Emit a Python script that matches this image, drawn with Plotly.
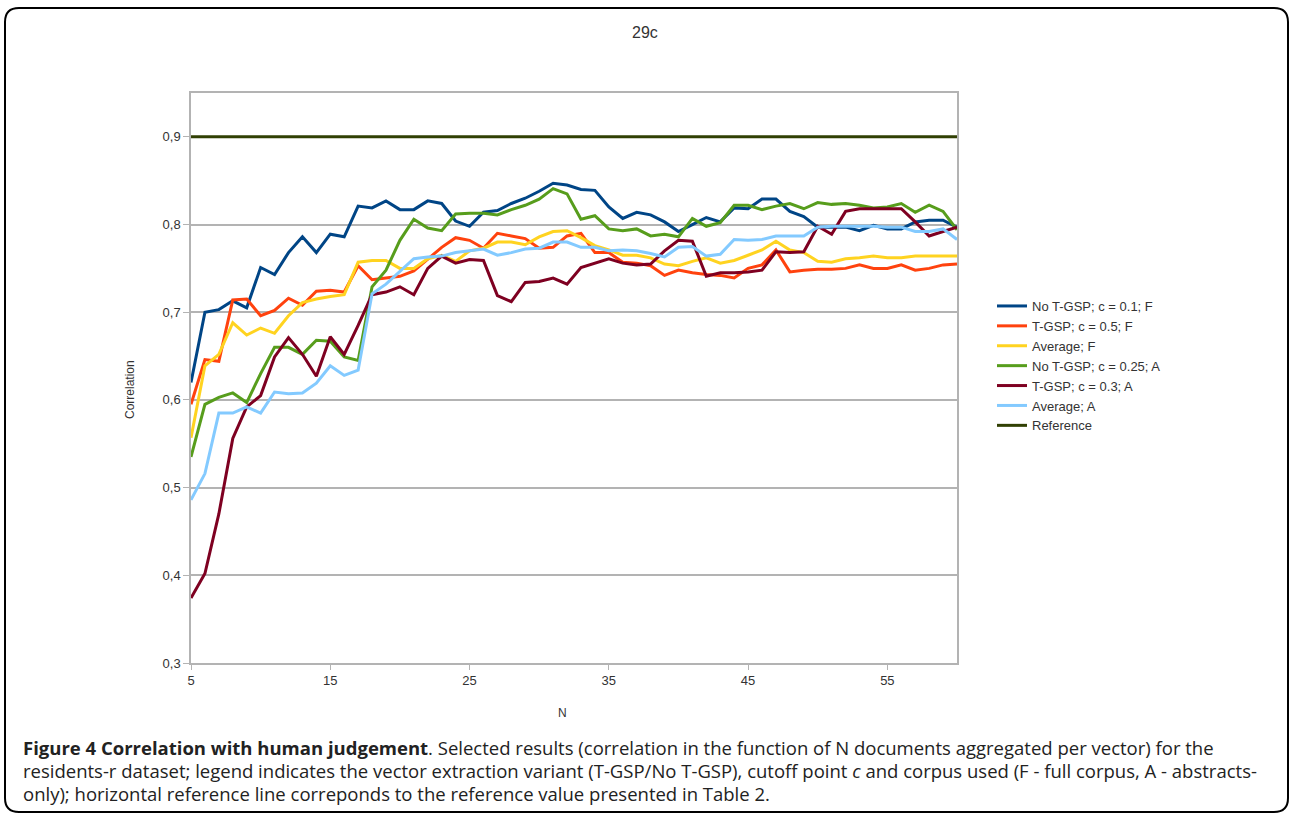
import plotly.graph_objects as go

# Number of documents aggregated per vector
n_docs = list(range(5, 61))

no_tgsp_01_f = [0.620, 0.700, 0.703, 0.713, 0.705, 0.751, 0.743, 0.768, 0.786, 0.768, 0.789, 0.786, 0.821, 0.819, 0.827, 0.817,
                0.817, 0.827, 0.824, 0.804, 0.798, 0.814, 0.816, 0.824, 0.830, 0.838, 0.847, 0.845, 0.840, 0.839, 0.820, 0.807, 0.814, 0.811, 0.803, 0.792,
                0.800, 0.808, 0.803, 0.819, 0.818, 0.829, 0.829, 0.815, 0.809, 0.797, 0.797, 0.797, 0.793, 0.799, 0.795, 0.795, 0.803, 0.805, 0.805, 0.797]
tgsp_05_f = [0.595, 0.646, 0.644, 0.714, 0.715, 0.696, 0.702, 0.716, 0.708, 0.724, 0.725, 0.723, 0.753, 0.737, 0.739, 0.741,
             0.747, 0.761, 0.774, 0.785, 0.782, 0.773, 0.790, 0.787, 0.784, 0.773, 0.774, 0.787, 0.790, 0.768, 0.768, 0.757, 0.756, 0.753, 0.742, 0.748,
             0.745, 0.743, 0.742, 0.739, 0.750, 0.754, 0.771, 0.746, 0.748, 0.749, 0.749, 0.750, 0.754, 0.750, 0.750, 0.754, 0.748, 0.750, 0.754, 0.755]
average_f = [0.557, 0.639, 0.652, 0.688, 0.674, 0.682, 0.676, 0.696, 0.711, 0.715, 0.718, 0.720, 0.757, 0.759, 0.759, 0.750,
             0.750, 0.761, 0.765, 0.758, 0.770, 0.773, 0.780, 0.780, 0.777, 0.786, 0.792, 0.793, 0.785, 0.776, 0.771, 0.765, 0.765, 0.762, 0.755, 0.753,
             0.758, 0.762, 0.756, 0.759, 0.765, 0.771, 0.781, 0.771, 0.768, 0.758, 0.757, 0.761, 0.762, 0.764, 0.762, 0.762, 0.764, 0.764, 0.764, 0.764]
no_tgsp_025_a = [0.535, 0.595, 0.603, 0.608, 0.597, 0.630, 0.660, 0.660, 0.652, 0.668, 0.667, 0.649, 0.645, 0.729, 0.748, 0.782,
                 0.806, 0.796, 0.793, 0.812, 0.813, 0.813, 0.811, 0.817, 0.822, 0.829, 0.841, 0.835, 0.806, 0.810, 0.795, 0.793, 0.795, 0.787, 0.789, 0.786,
                 0.807, 0.798, 0.802, 0.822, 0.822, 0.817, 0.821, 0.824, 0.818, 0.825, 0.823, 0.824, 0.822, 0.819, 0.820, 0.824, 0.814, 0.822, 0.815, 0.794]
tgsp_03_a = [0.374, 0.402, 0.470, 0.556, 0.592, 0.605, 0.649, 0.671, 0.652, 0.627, 0.672, 0.652, 0.685, 0.720, 0.723, 0.729,
             0.720, 0.750, 0.764, 0.756, 0.760, 0.759, 0.719, 0.712, 0.734, 0.735, 0.739, 0.732, 0.751, 0.756, 0.761, 0.756, 0.754, 0.755, 0.770, 0.782,
             0.781, 0.741, 0.745, 0.745, 0.746, 0.748, 0.769, 0.768, 0.769, 0.798, 0.789, 0.815, 0.818, 0.818, 0.818, 0.818, 0.803, 0.787, 0.792, 0.797]
average_a = [0.486, 0.516, 0.585, 0.585, 0.592, 0.585, 0.609, 0.607, 0.608, 0.619, 0.639, 0.628, 0.634, 0.721, 0.732, 0.746,
             0.761, 0.763, 0.764, 0.768, 0.770, 0.772, 0.765, 0.768, 0.772, 0.773, 0.780, 0.780, 0.774, 0.774, 0.770, 0.771, 0.770, 0.767, 0.763, 0.774,
             0.775, 0.764, 0.766, 0.783, 0.782, 0.783, 0.787, 0.787, 0.787, 0.797, 0.798, 0.798, 0.798, 0.798, 0.797, 0.797, 0.792, 0.792, 0.795, 0.783]
reference_value = 0.9

series_names = ["No T-GSP; c = 0.1; F", "T-GSP; c = 0.5; F", "Average; F",
                "No T-GSP; c = 0.25; A", "T-GSP; c = 0.3; A", "Average; A", "Reference"]
series_colors = ["#004586", "#ff420e", "#ffd320", "#579d1c", "#7e0021", "#83caff", "#314004"]
x_tick_values = [5, 15, 25, 35, 45, 55]

caption_lines = [
    "<b>Figure 4 Correlation with human judgement</b>. Selected results (correlation in the function of N documents aggregated per vector) for the",
    "residents-r dataset; legend indicates the vector extraction variant (T-GSP/No T-GSP), cutoff point <i>c</i> and corpus used (F - full corpus, A - abstracts-",
    "only); horizontal reference line correponds to the reference value presented in Table 2.",
]

W, H = 1292, 820
L, R, T, B = 191, 957, 93, 663  # plot area in pixels


def px(x):
    return (x - L) / (R - L)


def py(y):
    return (B - y) / (B - T)


fig = go.Figure()
all_series = [no_tgsp_01_f, tgsp_05_f, average_f, no_tgsp_025_a, tgsp_03_a, average_a,
              [reference_value] * len(n_docs)]
for name, color, values in zip(series_names, series_colors, all_series):
    fig.add_trace(go.Scatter(x=n_docs, y=values, mode="lines", name=name,
                             line=dict(color=color, width=3)))

axis_font = dict(family="Liberation Sans, Arial, sans-serif", size=13, color="#333333")

fig.update_xaxes(range=[5, 60], tickvals=x_tick_values, ticks="outside", ticklen=5,
                 tickcolor="#b3b3b3", showgrid=False, zeroline=False,
                 showline=True, linecolor="#b3b3b3", linewidth=1.5, mirror=True,
                 tickfont=axis_font)
fig.update_yaxes(range=[0.3, 0.95], tick0=0.3, dtick=0.1, tickformat=".1f",
                 ticks="outside", ticklen=6, tickcolor="#b3b3b3",
                 showgrid=True, gridcolor="#b3b3b3", gridwidth=1.5, zeroline=False,
                 showline=True, linecolor="#b3b3b3", linewidth=1.5, mirror=True,
                 tickfont=axis_font)

# Rounded frame around the whole figure
x0, y0, x1, y1, r = 5, 8, 1288, 812, 14
frame = (f"M {px(x0 + r)},{py(y0)} L {px(x1 - r)},{py(y0)} "
         f"Q {px(x1)},{py(y0)} {px(x1)},{py(y0 + r)} L {px(x1)},{py(y1 - r)} "
         f"Q {px(x1)},{py(y1)} {px(x1 - r)},{py(y1)} L {px(x0 + r)},{py(y1)} "
         f"Q {px(x0)},{py(y1)} {px(x0)},{py(y1 - r)} L {px(x0)},{py(y0 + r)} "
         f"Q {px(x0)},{py(y0)} {px(x0 + r)},{py(y0)} Z")
fig.add_shape(type="path", path=frame, xref="paper", yref="paper",
              line=dict(color="#000000", width=2), layer="below")

annotations = [
    dict(text="29c", x=px(645), y=py(33), font=dict(family="Liberation Sans, Arial", size=16, color="#333333")),
    dict(text="N", x=px(562), y=py(713), font=dict(family="Liberation Sans, Arial", size=12, color="#333333")),
    dict(text="Correlation", x=px(130), y=py(390), textangle=-90,
         font=dict(family="Liberation Sans, Arial", size=12, color="#333333")),
]
for i, line in enumerate(caption_lines):
    annotations.append(dict(text=line, x=px(21), y=py(747 + 23 * i), xanchor="left",
                            font=dict(family="Open Sans", size=18.5, color="#222222")))
for a in annotations:
    a.update(xref="paper", yref="paper", showarrow=False)
    a.setdefault("xanchor", "center")
    a.setdefault("yanchor", "middle")

fig.update_layout(
    width=W, height=H,
    margin=dict(l=L, r=W - R, t=T, b=H - B),
    paper_bgcolor="white", plot_bgcolor="white",
    separators=", ",
    showlegend=True,
    legend=dict(x=px(992), y=py(291), xanchor="left", yanchor="top",
                font=dict(family="Liberation Sans, Arial", size=13, color="#333333"),
                itemwidth=30, tracegroupgap=0, bgcolor="rgba(0,0,0,0)"),
    annotations=annotations,
)

fig.write_html("out.html")
